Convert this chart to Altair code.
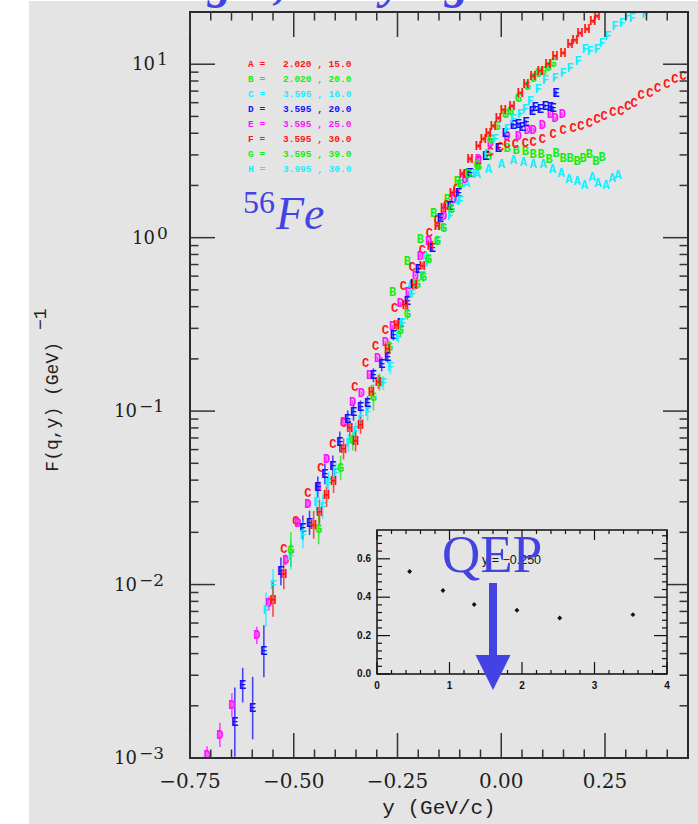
import altair as alt
import pandas as pd

# ---------------- data ----------------
SERIES = ["A", "B", "C", "D", "E", "F", "G", "H"]

A_y = [-0.219, -0.183, -0.147, -0.111, -0.084, -0.058, -0.031, 0.000, 0.029, 0.053, 0.077,
       0.101, 0.123, 0.144, 0.163, 0.183, 0.200, 0.219, 0.233, 0.252, 0.267, 0.281]
A_F = [0.530, 0.788, 1.17, 1.63, 2.07, 2.33, 2.49, 2.66, 2.81, 2.73, 2.66,
       2.66, 2.49, 2.36, 2.18, 2.13, 2.02, 2.24, 2.07, 2.02, 2.21, 2.30]

B_y = [-0.262, -0.226, -0.195, -0.163, -0.130, -0.106, -0.079, -0.055, -0.031, 0.014, 0.036,
       0.058, 0.077, 0.096, 0.115, 0.132, 0.149, 0.166, 0.183, 0.197, 0.212, 0.228, 0.243]
B_F = [0.483, 0.738, 0.987, 1.39, 1.67, 2.13, 2.36, 2.59, 2.96, 3.29, 3.21,
       3.16, 3.04, 3.04, 2.84, 3.08, 2.88, 2.88, 2.77, 2.88, 3.04, 2.77, 2.92]

C_y = [-0.524, -0.495, -0.466, -0.435, -0.406, -0.380, -0.353, -0.327, -0.303, -0.279, -0.257,
       -0.236, -0.214, -0.190, -0.173, -0.154, -0.132, -0.108, -0.084, -0.055, -0.026, -0.002,
       0.014, 0.034, 0.058, 0.077, 0.099, 0.125, 0.149, 0.173, 0.192, 0.212, 0.231, 0.248,
       0.269, 0.288, 0.305, 0.320, 0.337, 0.358, 0.377, 0.399, 0.418, 0.438]
C_F = [0.0161, 0.0233, 0.0338, 0.047, 0.0646, 0.0853, 0.137, 0.189, 0.236, 0.292, 0.391,
       0.523, 0.673, 0.853, 1.07, 1.27, 1.55, 1.91, 2.33, 2.77, 3.12, 3.33,
       3.47, 3.47, 3.51, 3.56, 3.71, 3.96, 4.18, 4.29, 4.40, 4.58, 4.83, 5.02,
       5.30, 5.37, 5.74, 5.97, 6.64, 6.81, 7.28, 7.68, 8.20, 8.53]

D_y = [-0.709, -0.678, -0.649, -0.589, -0.560, -0.519, -0.490, -0.466, -0.442, -0.421, -0.380,
       -0.358, -0.337, -0.317, -0.298, -0.279, -0.262, -0.243, -0.224, -0.207, -0.195, -0.175,
       -0.139, -0.115, -0.087, -0.055, -0.026, 0.014, 0.041, 0.063, 0.077, 0.099, 0.118, 0.130, 0.147]
D_F = [0.00104, 0.00136, 0.00202, 0.00509, 0.00778, 0.0139, 0.0227, 0.0292, 0.0366, 0.0530, 0.0865,
       0.113, 0.127, 0.161, 0.202, 0.249, 0.308, 0.418, 0.483, 0.605, 0.788, 0.961,
       1.34, 1.67, 2.18, 2.84, 3.51, 3.85, 3.85, 4.18, 4.18, 4.46, 5.16, 4.89, 5.16]
D_err = [0.05, 0.07, 0.07, 0.05, 0.04, 0.03, 0.02, 0.02, 0.02, 0.02,
         0.01, 0.01, 0.01, 0.01, 0.01,
         0.01, 0.01, 0.01, 0.01, 0.01,
         0.01, 0.01, 0.01, 0.01, 0.01,
         0.01, 0.01, 0.01, 0.01, 0.01,
         0.01, 0.01, 0.01, 0.01, 0.01]

E_y = [-0.642, -0.599, -0.623, -0.572, -0.531, -0.478, -0.462, -0.442, -0.425, -0.406, -0.389,
       -0.370, -0.356, -0.339, -0.322, -0.308, -0.288, -0.274, -0.260, -0.243, -0.226, -0.212,
       -0.200, -0.166, -0.147, -0.123, -0.103, -0.075, -0.038, -0.007, 0.010, 0.029, 0.041,
       0.050, 0.060, 0.075, 0.082, 0.094, 0.106, 0.118, 0.125, 0.132]
E_F = [0.00161, 0.00194, 0.00263, 0.00412, 0.0119, 0.0213, 0.0227, 0.0366, 0.0435, 0.0483, 0.0664,
       0.0899, 0.0987, 0.105, 0.111, 0.161, 0.186, 0.204, 0.274, 0.321, 0.429, 0.544,
       0.664, 0.876, 1.30, 1.53, 1.81, 2.36, 2.96, 3.29, 4.01, 4.46, 4.52,
       4.34, 4.64, 5.37, 5.66, 5.51, 5.74, 5.66, 5.58, 6.81]
E_err = [0.20, 0.18, 0.10, 0.15, 0.08, 0.07, 0.07, 0.06, 0.06, 0.06, 0.06, 0.05, 0.05,
         0.04, 0.04, 0.04, 0.04, 0.03, 0.03, 0.03, 0.03, 0.02, 0.02, 0.02, 0.02, 0.02,
         0.015, 0.015, 0.012, 0.012, 0.012, 0.012, 0.010, 0.010,
         0.010, 0.010, 0.010, 0.010, 0.010, 0.010, 0.010, 0.015]

F_y = [-0.567, -0.550, -0.507, -0.478, -0.445, -0.430, -0.416, -0.399, -0.368, -0.351, -0.339,
       -0.322, -0.284, -0.267, -0.248, -0.238, -0.214, -0.207, -0.190, -0.178, -0.154, -0.123,
       -0.099, -0.063, -0.034, -0.014, 0.014, 0.029, 0.046, 0.058, 0.070, 0.089, 0.106, 0.130,
       0.149, 0.166, 0.185, 0.202, 0.214, 0.231, 0.243, 0.257, 0.274, 0.291, 0.303, 0.315, 0.346]
F_F = [0.00718, 0.0100, 0.0147, 0.0194, 0.0300, 0.0281, 0.0386, 0.0441, 0.0655, 0.0767, 0.0888,
       0.0987, 0.145, 0.179, 0.266, 0.321, 0.476, 0.544, 0.605, 0.718, 0.961, 1.34,
       1.63, 2.33, 3.04, 3.71, 4.23, 4.83, 5.16, 5.51, 6.13, 7.18, 8.09, 8.31,
       8.88, 9.49, 10.4, 12.2, 11.9, 12.2, 13.2, 14.5, 16.5, 17.2, 18.9, 18.4, 19.4]
F_err = [0.10, 0.09, 0.08, 0.08, 0.07, 0.07, 0.06, 0.06, 0.05, 0.05, 0.05, 0.05, 0.04, 0.04,
         0.03, 0.03, 0.025, 0.025, 0.02, 0.02,
         0.015, 0.015, 0.015, 0.015, 0.015, 0.012, 0.012, 0.012, 0.012,
         0.012, 0.012, 0.010, 0.010, 0.010, 0.010, 0.010, 0.010, 0.010,
         0.010, 0.010, 0.010, 0.010, 0.010, 0.010, 0.010, 0.010, 0.010]

G_y = [-0.507, -0.440, -0.387, -0.358, -0.308, -0.293, -0.269, -0.243, -0.226, -0.202, -0.188,
       -0.175, -0.154, -0.139, -0.120, -0.099, -0.079, -0.058, -0.026, -0.010, 0.010, 0.022,
       0.041, 0.063, 0.077, 0.089, 0.101, 0.113, 0.125]
G_F = [0.0159, 0.0210, 0.047, 0.0681, 0.120, 0.147, 0.233, 0.292, 0.361, 0.544, 0.597,
       0.757, 0.961, 1.14, 1.47, 2.04, 2.33, 2.63, 3.71, 4.40, 5.16, 5.37,
       6.38, 7.47, 8.31, 8.88, 9.12, 9.61, 10.1]
G_err = [0.10, 0.09, 0.07, 0.06, 0.075, 0.05, 0.04, 0.04, 0.03, 0.03, 0.03, 0.02, 0.02, 0.02, 0.02,
         0.015, 0.015, 0.015, 0.012, 0.012, 0.012, 0.012,
         0.010, 0.010, 0.010, 0.010, 0.010, 0.010, 0.010]

H_y = [-0.550, -0.524, -0.452, -0.438, -0.421, -0.404, -0.380, -0.351, -0.365, -0.339, -0.313,
       -0.296, -0.274, -0.252, -0.231, -0.209, -0.190, -0.171, -0.154, -0.139, -0.118, -0.094,
       -0.075, -0.055, -0.043, -0.031, -0.019, -0.007, 0.005, 0.026, 0.046, 0.060, 0.077,
       0.094, 0.113, 0.130, 0.149, 0.166, 0.178, 0.190, 0.207, 0.221, 0.231]
H_F = [0.0082, 0.01156, 0.0221, 0.0263, 0.0329, 0.0396, 0.0605, 0.0673, 0.0798, 0.0831, 0.1286,
       0.147, 0.227, 0.312, 0.407, 0.530, 0.690, 0.900, 1.17, 1.49, 1.81, 2.33,
       2.84, 3.38, 3.71, 4.01, 4.40, 4.89, 5.44, 5.74, 6.81, 7.68, 8.53,
       9.12, 10.0, 11.1, 11.6, 13.0, 13.7, 15.1, 15.9, 17.7, 18.9]
H_err = [0.10, 0.09, 0.08, 0.07, 0.07, 0.07, 0.06, 0.06, 0.05, 0.05, 0.04, 0.04, 0.03, 0.03,
         0.03, 0.02, 0.02, 0.02, 0.02, 0.02,
         0.015, 0.015, 0.015, 0.012, 0.012, 0.012, 0.012, 0.010,
         0.010, 0.010, 0.010, 0.010, 0.010, 0.010, 0.010, 0.010,
         0.010, 0.010, 0.010, 0.010, 0.010, 0.010, 0.010]

LEG_LAB = ["A =", "B =", "C =", "D =", "E =", "F =", "G =", "H ="]
LEG_VAL = ["2.020 , 15.0", "2.020 , 20.0", "3.595 , 16.0", "3.595 , 20.0",
           "3.595 , 25.0", "3.595 , 30.0", "3.595 , 39.0", "3.995 , 30.0"]

INSET_Q = [0.45, 0.91, 1.34, 1.93, 2.52, 3.53]
INSET_V = [0.534, 0.435, 0.362, 0.332, 0.292, 0.309]
INSET_NOTE = "y = −0.250"

X_MAJOR = [-0.75, -0.5, -0.25, 0.0, 0.25]
X_MINOR = [-0.7, -0.65, -0.6, -0.55, -0.45, -0.4, -0.35, -0.3, -0.2, -0.15, -0.1, -0.05,
           0.05, 0.1, 0.15, 0.2, 0.3, 0.35, 0.4]
Y_MAJOR = [0.001, 0.01, 0.1, 1.0, 10.0]
Y_EXP = ["−3", "−2", "−1", "0", "1"]
Y_MINOR = [m * d for d in (0.001, 0.01, 0.1, 1.0) for m in range(2, 10)]

IX_MAJOR = [0, 1, 2, 3, 4]
IX_LABELS = ["0", "1", "2", "3", "4"]
IX_MINOR = [0.2, 0.4, 0.6, 0.8, 1.2, 1.4, 1.6, 1.8, 2.2, 2.4, 2.6, 2.8, 3.2, 3.4, 3.6, 3.8]
IY_MAJOR = [0.0, 0.2, 0.4, 0.6]
IY_LABELS = ["0.0", "0.2", "0.4", "0.6"]
IY_MINOR = [0.04, 0.08, 0.12, 0.16, 0.24, 0.28, 0.32, 0.36, 0.44, 0.48, 0.52, 0.56, 0.64, 0.68, 0.72]

TITLE_FRAGS = ["g", ",", "y", "g"]

# ---------------- styles ----------------
RED, GREEN, CYAN, BLUE_D, MAG = "#ff1414", "#10ee10", "#10f0ff", "#1010ff", "#ff10ff"
SERIES_COLORS = [CYAN, GREEN, RED, MAG, BLUE_D, CYAN, GREEN, RED]
LEG_COLORS = [RED, GREEN, CYAN, BLUE_D, MAG, RED, GREEN, CYAN]
FRAG_X = [30, 90, 202, 267]
GRAY = "#e4e4e4"
AXC = "#333333"
TXT = "#1e1e1e"
BLUE = "#4343e3"
W, H = 498, 746

VALUES = {"A": (A_y, A_F, None), "B": (B_y, B_F, None), "C": (C_y, C_F, None),
          "D": (D_y, D_F, D_err), "E": (E_y, E_F, E_err), "F": (F_y, F_F, F_err),
          "G": (G_y, G_F, G_err), "H": (H_y, H_F, H_err)}
rows = []
for s in SERIES:
    ys, fs, es = VALUES[s]
    for i, (yv, fv) in enumerate(zip(ys, fs)):
        ev = es[i] if (es is not None and i < len(es)) else 0.0
        rows.append(dict(series=s, y=yv, F=fv, err=ev, lo=fv / 10 ** ev, hi=fv * 10 ** ev))
pts = pd.DataFrame(rows)

one = pd.DataFrame({"k": [0]})
XS = alt.Scale(domain=[-0.75, 0.45], nice=False, zero=False)
YS = alt.Scale(type="log", domain=[0.001, 20], nice=False)
IXS = alt.Scale(domain=[0, 4], range=[187, 477], nice=False, zero=False)
IYS = alt.Scale(domain=[0, 0.75], range=[662, 518], nice=False, zero=False)
COL = alt.Color("series:N", scale=alt.Scale(domain=SERIES, range=SERIES_COLORS), legend=None)


def rules(values, scale, ch, a, b, width=1.5, color=AXC):
    df = pd.DataFrame({"t": values})
    if ch == "x":
        enc = dict(x=alt.X("t:Q", scale=scale, axis=None), y=alt.value(a), y2=alt.value(b))
    else:
        enc = dict(y=alt.Y("t:Q", scale=scale, axis=None), x=alt.value(a), x2=alt.value(b))
    return alt.Chart(df).mark_rule(color=color, strokeWidth=width).encode(**enc)


# ---------------- main panel ----------------
bg = alt.Chart(one).mark_rect(color=GRAY).encode(
    x=alt.value(-161), x2=alt.value(508), y=alt.value(-11), y2=alt.value(812))

frags = alt.Chart(pd.DataFrame({"f": TITLE_FRAGS, "px": FRAG_X})).mark_text(
    font="Liberation Serif", fontStyle="italic", fontWeight="bold", fontSize=48,
    color=BLUE, align="center", baseline="alphabetic").encode(
    x=alt.X("px:Q", scale=None), y=alt.value(-14), text="f:N")

errbars = alt.Chart(pts).transform_filter("datum.err > 0").mark_rule(
    strokeWidth=1.6, opacity=0.75, clip=True).encode(
    x=alt.X("y:Q", scale=XS, axis=None),
    y=alt.Y("lo:Q", scale=YS, axis=None), y2="hi:Q", color=COL)

letters = alt.Chart(pts).mark_text(
    font="Liberation Mono", fontWeight="bold", fontSize=12, clip=True).encode(
    x=alt.X("y:Q", scale=XS, axis=None),
    y=alt.Y("F:Q", scale=YS, axis=None), text="series:N", color=COL)

frame = alt.Chart(one).mark_rect(fillOpacity=0, stroke="#2a2a2a", strokeWidth=2).encode(
    x=alt.value(0), x2=alt.value(W), y=alt.value(0), y2=alt.value(H))

ticks = [
    rules(X_MAJOR, XS, "x", H, H - 25), rules(X_MINOR, XS, "x", H, H - 8.5),
    rules(X_MAJOR, XS, "x", 0, 25), rules(X_MINOR, XS, "x", 0, 8.5),
    rules(Y_MAJOR, YS, "y", 0, 25), rules(Y_MINOR, YS, "y", 0, 8.5),
    rules(Y_MAJOR, YS, "y", W, W - 25), rules(Y_MINOR, YS, "y", W, W - 8.5),
]

xlab = alt.Chart(pd.DataFrame({"t": X_MAJOR})).mark_text(
    font="DejaVu Serif", fontSize=20, baseline="top", align="center", color=TXT).encode(
    x=alt.X("t:Q", scale=XS, axis=None), y=alt.value(H + 14),
    text=alt.Text("t:Q", format=".2f"))

ylab_df = pd.DataFrame({"v": Y_MAJOR, "e": Y_EXP})
ylab_layers = []
for cond, base_x, exp_x in (("datum.v < 1", -53, -51), ("datum.v >= 1", -35, -33)):
    ylab_layers.append(alt.Chart(ylab_df).transform_filter(cond).mark_text(
        text="10", font="DejaVu Serif", fontSize=18, align="right", baseline="middle",
        dy=1, color=TXT).encode(y=alt.Y("v:Q", scale=YS, axis=None), x=alt.value(base_x)))
    ylab_layers.append(alt.Chart(ylab_df).transform_filter(cond).mark_text(
        font="DejaVu Serif", fontSize=17, align="left", baseline="alphabetic",
        dy=1, color=TXT).encode(y=alt.Y("v:Q", scale=YS, axis=None), x=alt.value(exp_x),
                                text="e:N"))

xtitle = alt.Chart(one).mark_text(
    text="y (GeV/c)", font="Liberation Mono", fontSize=21, align="center",
    baseline="middle", color=TXT).encode(x=alt.value(W / 2), y=alt.value(796))
ytitle = alt.Chart(one).mark_text(
    text="F(q,y) (GeV)", font="Liberation Mono", fontSize=18, angle=270, align="right",
    baseline="middle", color=TXT).encode(x=alt.value(-137), y=alt.value(330))
ytitle_exp = alt.Chart(one).mark_text(
    text="−1", font="Liberation Mono", fontSize=18, angle=270, align="left",
    baseline="middle", color=TXT).encode(x=alt.value(-149), y=alt.value(318))

leg_df = pd.DataFrame({"lab": LEG_LAB, "val": LEG_VAL, "col": LEG_COLORS,
                       "idx": list(range(len(LEG_LAB)))})
leg_lab = alt.Chart(leg_df).transform_calculate(ry="52 + 15 * datum.idx").mark_text(
    font="Liberation Mono", fontWeight="bold", fontSize=9.5, align="left",
    baseline="middle").encode(x=alt.value(58), y=alt.Y("ry:Q", scale=None),
                              text="lab:N", color=alt.Color("col:N", scale=None))
leg_val = alt.Chart(leg_df).transform_calculate(ry="52 + 15 * datum.idx").mark_text(
    font="Liberation Mono", fontWeight="bold", fontSize=9.5, align="left",
    baseline="middle").encode(x=alt.value(93), y=alt.Y("ry:Q", scale=None),
                              text="val:N", color=alt.Color("col:N", scale=None))

fe56 = alt.Chart(one).mark_text(
    text="56", font="Liberation Serif", fontSize=32, align="left", baseline="alphabetic",
    color=BLUE).encode(x=alt.value(53), y=alt.value(201))
fe = alt.Chart(one).mark_text(
    text="Fe", font="Liberation Serif", fontStyle="italic", fontSize=46, align="left",
    baseline="alphabetic", color=BLUE).encode(x=alt.value(86), y=alt.value(217))

main = alt.layer(bg, frags, errbars, letters, frame, *ticks, xlab, *ylab_layers,
                 xtitle, ytitle, ytitle_exp, leg_lab, leg_val, fe56, fe)

# ---------------- inset panel ----------------
inset_box = alt.Chart(one).mark_rect(fill=GRAY, stroke="#111111", strokeWidth=1.5).encode(
    x=alt.value(187), x2=alt.value(477), y=alt.value(518), y2=alt.value(662))
iticks = [
    rules(IX_MAJOR, IXS, "x", 662, 650, 1.2, "#111"), rules(IX_MINOR, IXS, "x", 662, 658, 1.2, "#111"),
    rules(IX_MAJOR, IXS, "x", 518, 528, 1.2, "#111"), rules(IX_MINOR, IXS, "x", 518, 522, 1.2, "#111"),
    rules(IY_MAJOR, IYS, "y", 187, 200, 1.2, "#111"), rules(IY_MINOR, IYS, "y", 187, 192, 1.2, "#111"),
    rules(IY_MAJOR, IYS, "y", 477, 464, 1.2, "#111"), rules(IY_MINOR, IYS, "y", 477, 472, 1.2, "#111"),
]
ixlab = alt.Chart(pd.DataFrame({"t": IX_MAJOR, "s": IX_LABELS})).mark_text(
    font="Liberation Sans", fontWeight="bold", fontSize=10, align="center", baseline="top",
    color="#111").encode(x=alt.X("t:Q", scale=IXS, axis=None), y=alt.value(669), text="s:N")
iylab = alt.Chart(pd.DataFrame({"t": IY_MAJOR, "s": IY_LABELS})).mark_text(
    font="Liberation Sans", fontWeight="bold", fontSize=10, align="right", baseline="middle",
    color="#111").encode(y=alt.Y("t:Q", scale=IYS, axis=None), x=alt.value(181), text="s:N")
ipts = alt.Chart(pd.DataFrame({"q": INSET_Q, "v": INSET_V})).mark_point(
    shape="diamond", filled=True, size=24, color="#111", opacity=1).encode(
    x=alt.X("q:Q", scale=IXS, axis=None), y=alt.Y("v:Q", scale=IYS, axis=None))
inote = alt.Chart(one).mark_text(
    text=INSET_NOTE, font="Liberation Sans", fontSize=12.5, align="left",
    baseline="alphabetic", color="#111").encode(x=alt.value(292), y=alt.value(552))

qep = alt.Chart(one).mark_text(
    text="QEP", font="Liberation Serif", fontSize=53, align="left", baseline="alphabetic",
    color=BLUE).encode(x=alt.value(252), y=alt.value(560))
shaft = alt.Chart(one).mark_rule(color=BLUE, strokeWidth=8).encode(
    x=alt.value(303), y=alt.value(571), y2=alt.value(646))
head = alt.Chart(one).mark_point(
    shape="M-1,-1L1,-1L0,1Z", size=1225, filled=True, color=BLUE, opacity=1,
    strokeWidth=0).encode(x=alt.value(303), y=alt.value(660.5))

inset = alt.layer(inset_box, *iticks, ixlab, iylab, ipts, inote, qep, shaft, head)

chart = alt.layer(main, inset).resolve_scale(
    x="independent", y="independent"
).properties(
    width=W, height=H,
    autosize=alt.AutoSizeParams(type="none"),
    padding={"left": 190, "top": 12, "right": 10, "bottom": 66},
    background="white",
).configure_view(stroke=None)

chart.save("out.html", embed_options={"renderer": "svg", "actions": False})
